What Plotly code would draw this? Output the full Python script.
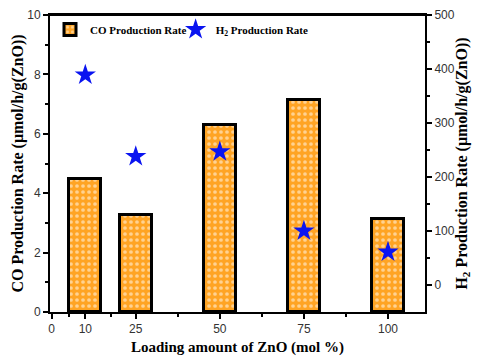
import plotly.graph_objects as go
from plotly.subplots import make_subplots

# Daten
loading = [10, 25, 50, 75, 100]
co_rate = [4.47, 3.25, 6.28, 7.15, 3.12]
h2_rate = [389, 238, 247, 100, 61]

serif = "Liberation Serif"
sans = "Liberation Sans"

fig = make_subplots(specs=[[{"secondary_y": True}]])

fig.add_trace(
    go.Bar(
        x=loading,
        y=co_rate,
        width=9.6,
        name="CO Production Rate",
        legend="legend",
        showlegend=True,
        marker=dict(
            color="#ffa424",
            line=dict(color="black", width=3),
            pattern=dict(shape=".", fgcolor="white", bgcolor="#ffa424",
                         size=6, solidity=0.3),
        ),
    ),
    secondary_y=False,
)

fig.add_trace(
    go.Scatter(
        x=loading,
        y=h2_rate,
        mode="markers",
        name="H<sub>2</sub> Production Rate",
        legend="legend2",
        showlegend=True,
        marker=dict(symbol="star", size=16, color="#0a14f0"),
    ),
    secondary_y=True,
)

axis_common = dict(
    showline=True, linecolor="black", linewidth=2,
    ticks="outside", tickcolor="black", ticklen=5, tickwidth=2,
    showgrid=False, zeroline=False, automargin=False,
    ticklabeloverflow="allow",
    tickfont=dict(family=sans, size=12, color="#333333"),
)

fig.update_xaxes(
    domain=[0, 1],
    range=[-0.5, 111],
    tickvals=[0, 10, 25, 50, 75, 100],
    mirror=True,
    minor=dict(tickvals=[5, 17.5, 37.5, 62.5, 87.5], ticks="outside",
               ticklen=3, tickcolor="black", tickwidth=1.5),
    title=dict(text="Loading amount of ZnO (mol %)",
               font=dict(family=serif, size=15, color="black"), standoff=10),
    **axis_common,
)

fig.update_yaxes(
    range=[0, 10],
    tickvals=[0, 2, 4, 6, 8, 10],
    minor=dict(tickvals=[1, 3, 5, 7, 9], ticks="outside",
               ticklen=3, tickcolor="black", tickwidth=1.5),
    title=dict(text="CO Production Rate (μmol/h/g(ZnO))",
               font=dict(family=serif, size=16, color="black"), standoff=0),
    secondary_y=False,
    **axis_common,
)

fig.update_yaxes(
    range=[-50, 500],
    tickvals=[0, 100, 200, 300, 400, 500],
    minor=dict(tickvals=[50, 150, 250, 350, 450], ticks="outside",
               ticklen=3, tickcolor="black", tickwidth=1.5),
    title=dict(text="H<sub>2</sub> Production Rate (μmol/h/g(ZnO))",
               font=dict(family=serif, size=16, color="black"), standoff=2),
    secondary_y=True,
    **axis_common,
)

# obere Rahmenlinie explizit zeichnen
fig.add_shape(type="line", xref="paper", yref="paper",
              x0=0, x1=1, y0=1, y1=1,
              line=dict(color="black", width=2))

legend_style = dict(
    y=1.0,
    xanchor="left", yanchor="top",
    bgcolor="rgba(0,0,0,0)",
    font=dict(family=serif, size=11, color="black", weight="bold"),
    itemwidth=30,
)

# Seite hat 8px Body-Rand: Figur 16px kleiner, damit sie genau ins Fenster passt
fig.update_layout(
    width=464,
    height=348,
    margin=dict(l=42, r=47, t=7, b=44),
    plot_bgcolor="white",
    paper_bgcolor="white",
    bargap=0,
    showlegend=True,
    legend=dict(x=0.0, **legend_style),
    legend2=dict(x=0.335, **legend_style),
)

fig.update_layout(
    xaxis_title_font_weight="bold",
    yaxis_title_font_weight="bold",
    yaxis2_title_font_weight="bold",
)

fig.write_html("out.html")
